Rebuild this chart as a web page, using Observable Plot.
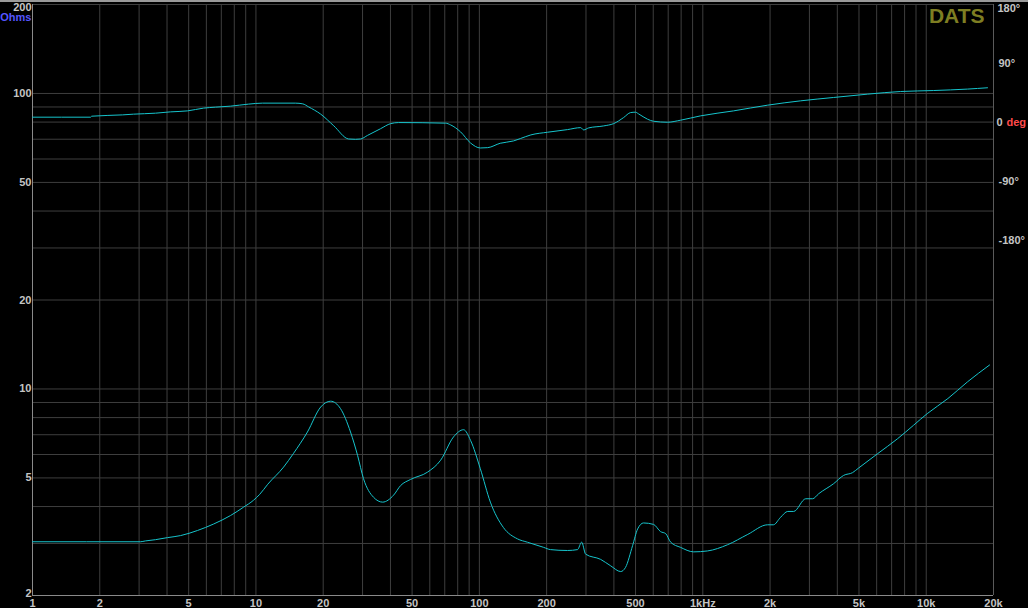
<!DOCTYPE html>
<html>
<head>
<meta charset="utf-8">
<script src="https://cdn.jsdelivr.net/npm/d3@7"></script>
<script src="https://cdn.jsdelivr.net/npm/@observablehq/plot@0.6"></script>
<style>
  html, body { margin: 0; padding: 0; background: #000; }
  #chart svg { display: block; border-top: 2px solid #9a9a9a; }
</style>
</head>
<body>
<div id="chart"></div>
<script>
// Impedance curve (Ohms vs Hz)
const impFreq = [1, 3.04, 3.20, 3.55, 4.02, 4.60, 5.48, 6.46, 7.70, 8.80, 9.75, 10.4, 11.3, 13.3, 14.7, 17.0, 19.5, 21.6, 23.9, 26.5, 28.5, 30.3, 33.6, 36.9, 41.3, 44.4, 49.2, 58.6, 67.1, 76.6, 85.0, 91.3, 101, 112, 128, 148, 164, 194, 208, 248, 275, 287, 299, 349, 387, 429, 451, 485, 511, 543, 602, 647, 682, 718, 795, 910, 1050, 1290, 1590, 1950, 2070, 2230, 2400, 2550, 2890, 3100, 3300, 3850, 4270, 4680, 4980, 6060, 7450, 8780, 10100, 12500, 15300, 19200];
const impOhms = [3.04, 3.04, 3.06, 3.09, 3.14, 3.19, 3.32, 3.49, 3.73, 3.98, 4.20, 4.40, 4.76, 5.44, 6.04, 7.15, 8.69, 9.09, 8.58, 7.15, 5.96, 4.97, 4.30, 4.14, 4.37, 4.71, 4.94, 5.23, 5.74, 6.88, 7.28, 6.70, 5.37, 4.14, 3.40, 3.11, 3.03, 2.91, 2.86, 2.84, 2.86, 3.03, 2.76, 2.65, 2.52, 2.41, 2.49, 2.95, 3.36, 3.52, 3.48, 3.29, 3.24, 3.03, 2.91, 2.81, 2.83, 2.97, 3.22, 3.47, 3.47, 3.68, 3.85, 3.85, 4.25, 4.25, 4.42, 4.78, 5.10, 5.21, 5.40, 6.04, 6.79, 7.54, 8.25, 9.28, 10.57, 12.05];

// Phase curve (degrees vs Hz)
const phaseFreq = [1, 1.82, 1.84, 2.53, 2.83, 3.55, 4.15, 4.94, 5.83, 6.60, 7.70, 9.27, 10.7, 15.0, 16.2, 17.2, 19.5, 22.3, 26.0, 27.9, 29.4, 31.6, 36.1, 40.1, 43.5, 70.6, 74.3, 82.4, 91.3, 101, 109, 124, 142, 153, 170, 202, 248, 284, 293, 308, 360, 399, 442, 475, 500, 516, 566, 602, 696, 795, 977, 1373, 1950, 2740, 3850, 5470, 7680, 10800, 15300, 18800];
const phaseDeg = [8.4, 8.4, 9.9, 11.9, 13.0, 14.5, 16.5, 18.0, 22.2, 23.7, 25.2, 28.3, 29.8, 29.8, 28.7, 24.1, 13.0, -4.7, -24.8, -25.3, -24.8, -19.3, -9.2, -1.4, 0.2, -0.7, -3.3, -14.0, -30.9, -38.5, -38.0, -31.3, -27.8, -24.0, -18.6, -14.5, -10.5, -7.5, -11.0, -8.0, -4.9, -1.4, 7.8, 15.4, 16.0, 13.4, 5.3, 2.2, 0.7, 3.8, 10.4, 18.0, 26.7, 33.3, 38.4, 43.5, 47.5, 49.0, 51.2, 53.2];

// Axis ticks and labels
const xTicks = [1, 2, 5, 10, 20, 50, 100, 200, 500, 1000, 2000, 5000, 10000, 20000];
const xTickLabels = ["1", "2", "5", "10", "20", "50", "100", "200", "500", "1kHz", "2k", "5k", "10k", "20k"];
const ohmTicks = [5, 10, 20, 50, 100];
const phaseTicks = [90, -90, -180];
const phaseDomain = [-720, 180];
const ohmDomain = [2, 200];

// Grid values (log 1..9 per decade)
const gridX = [];
for (const d of [1, 10, 100, 1000, 10000]) for (let m = 1; m <= 9; m++) if (d * m <= 20000) gridX.push(d * m);
gridX.push(20000);
const gridY = [];
for (const d of [1, 10, 100]) for (let m = 1; m <= 9; m++) { const v = d * m; if (v >= 2 && v <= 200) gridY.push(v); }
gridY.push(200);

// Phase degrees mapped onto the (log) ohm scale: -720..180 deg spans the full height
const phaseToY = p => ohmDomain[0] * Math.pow(ohmDomain[1] / ohmDomain[0], (p - phaseDomain[0]) / (phaseDomain[1] - phaseDomain[0]));

const imp = impFreq.map((f, i) => ({f, z: impOhms[i]}));
const ph = phaseFreq.map((f, i) => ({f, z: phaseToY(phaseDeg[i])}));

const gridColor = "#3e3e3e";
const curveColor = "#16c4cc";
const textColor = "#c4c4c4";

const chart = Plot.plot({
  width: 1028,
  height: 606,
  marginTop: 2,
  marginBottom: 13,
  marginLeft: 32,
  marginRight: 35,
  style: {background: "#000", color: textColor, fontFamily: "'Liberation Sans', Arial, sans-serif", fontSize: "11px", fontWeight: "bold"},
  x: {type: "log", domain: [1, 20000], axis: null},
  y: {type: "log", domain: ohmDomain, axis: null},
  marks: [
    Plot.ruleX(gridX, {stroke: gridColor, strokeWidth: 1}),
    Plot.ruleY(gridY, {stroke: gridColor, strokeWidth: 1}),
    Plot.ruleX([20000], {stroke: "#5a5a5a"}),
    Plot.ruleX([1], {stroke: "#8a8a8a"}),
    Plot.ruleY([2], {stroke: "#8a8a8a"}),
    // bottom frequency labels
    Plot.text(xTicks, {x: d => d, y: ohmDomain[0], text: (d, i) => xTickLabels[i], dy: 8, fill: textColor}),
    // left ohm labels
    Plot.text(ohmTicks, {x: 1, y: d => d, text: d => String(d), textAnchor: "end", dx: -1, fill: textColor}),
    Plot.text([200], {x: 1, y: d => d, text: d => String(d), textAnchor: "end", dx: -1, dy: 3, fill: textColor}),
    Plot.text([2], {x: 1, y: d => d, text: d => String(d), textAnchor: "end", dx: -1, dy: -2, fill: textColor}),
    Plot.text(["Ohms"], {x: 1, y: 200, text: d => d, textAnchor: "end", dx: -1, dy: 13, fill: "#5555ff"}),
    // right phase labels
    Plot.text(phaseTicks, {x: 20000, y: d => phaseToY(d), text: d => d + "°", textAnchor: "start", dx: 5, fill: textColor}),
    Plot.text([180], {x: 20000, y: d => phaseToY(d), text: d => d + "°", textAnchor: "start", dx: 4, dy: 4, fill: textColor}),
    Plot.text([0], {x: 20000, y: d => phaseToY(d), text: d => String(d), textAnchor: "start", dx: 3, fill: textColor}),
    Plot.text(["deg"], {x: 20000, y: phaseToY(0), text: d => d, textAnchor: "start", dx: 13, fill: "#ff4a4a"}),
    Plot.text(["DATS"], {frameAnchor: "top-right", text: d => d, dx: -9, dy: 4, lineAnchor: "top", fontSize: 21, fontWeight: "bold", fill: "#7e7e22"}),
    Plot.line(ph, {x: "f", y: "z", stroke: curveColor, strokeWidth: 1, curve: "monotone-x"}),
    Plot.line(imp, {x: "f", y: "z", stroke: curveColor, strokeWidth: 1, curve: "monotone-x"})
  ]
});
document.getElementById("chart").appendChild(chart);
</script>
</body>
</html>
